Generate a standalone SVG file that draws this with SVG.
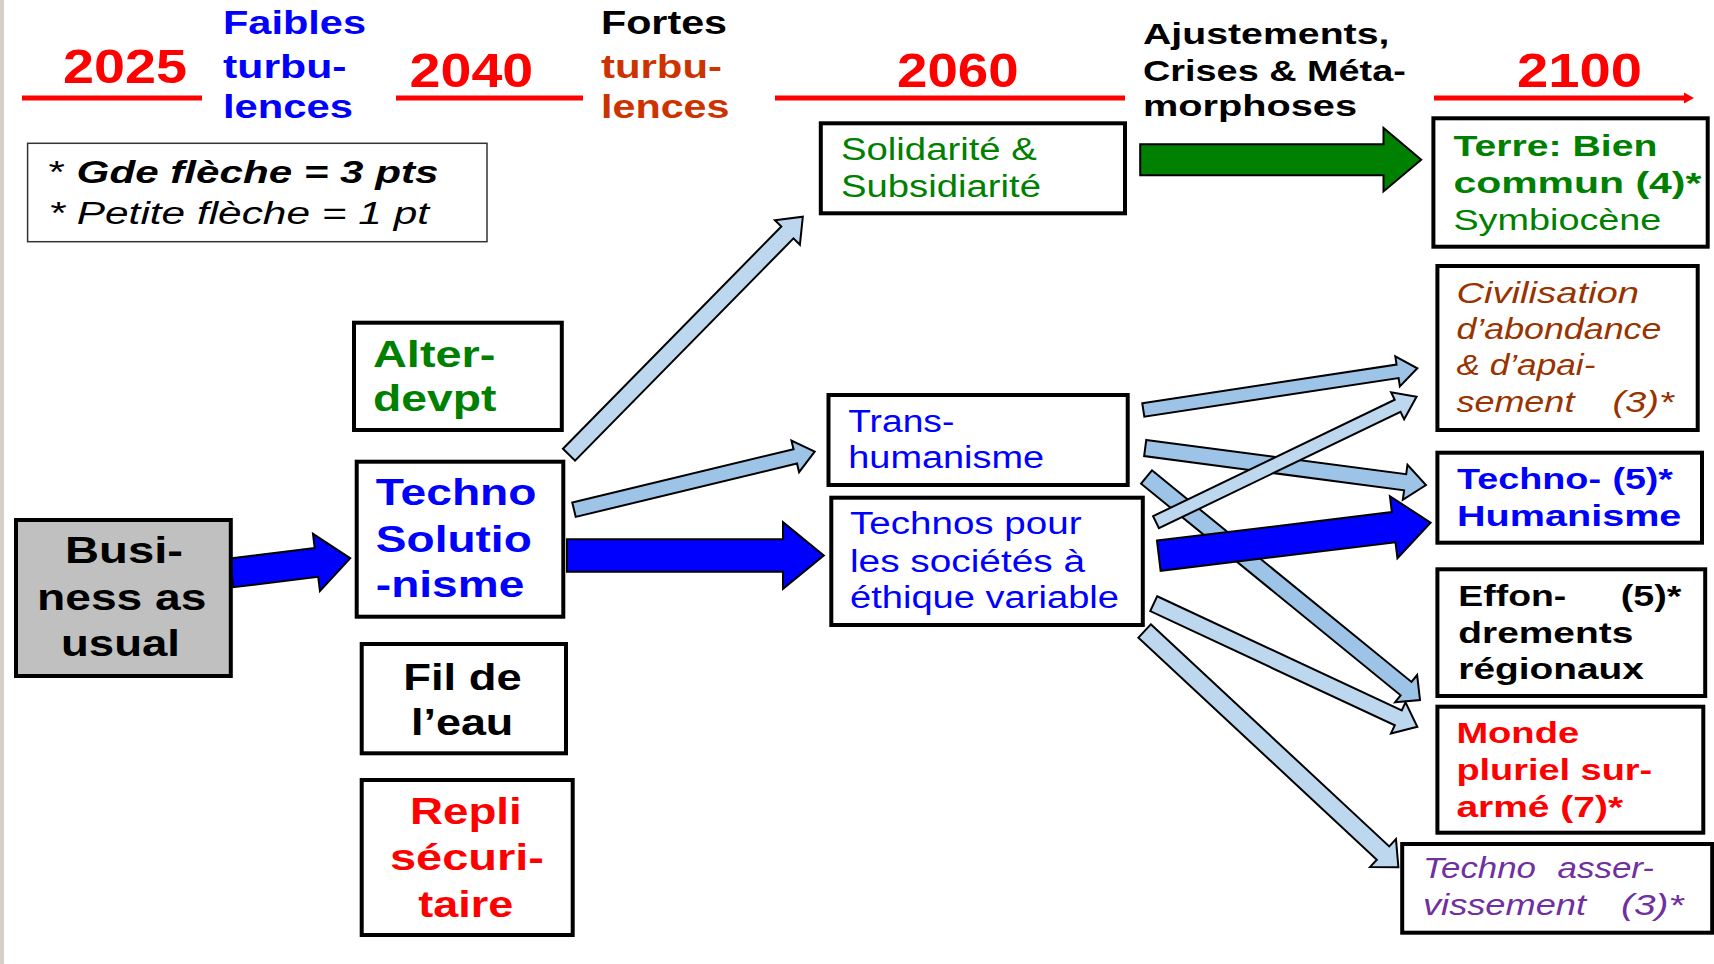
<svg xmlns="http://www.w3.org/2000/svg" width="1714" height="964" viewBox="0 0 1714 964">
<style>
text { font-family: "Liberation Sans", Arial, sans-serif; }
.b { font-weight: bold; }
.i { font-style: italic; }
.box { fill: #ffffff; stroke: #000000; stroke-width: 4; }
.tl { stroke: #ff0000; stroke-width: 5; }
.yr { font-size: 49px; font-weight: bold; fill: #ff0000; }
.ph { font-size: 34px; font-weight: bold; }
.aj { font-size: 30px; font-weight: bold; fill: #000000; }
.t1 { font-size: 36px; font-weight: bold; }
.t2 { font-size: 31px; }
.t3 { font-size: 30px; }
.arr { stroke: #000000; stroke-width: 2; stroke-linejoin: miter; }
.big { fill: #0000ff; }
.grn { fill: #008000; }
.lt { fill: #bdd7ee; }
.md { fill: #9dc3e6; }
</style>
<rect x="0" y="0" width="1714" height="964" fill="#ffffff"/>
<rect x="0" y="0" width="4" height="964" fill="#d4d0c8"/>

<g id="timeline">
  <line class="tl" x1="22" y1="98" x2="202" y2="98"/>
  <line class="tl" x1="396" y1="98" x2="583" y2="98"/>
  <line class="tl" x1="775" y1="98" x2="1125" y2="98"/>
  <line class="tl" x1="1434" y1="98" x2="1686" y2="98"/>
  <polygon points="1684,92.5 1694,98 1684,103.5" fill="#ff0000"/>
  <text class="yr" x="63" y="83" textLength="124" lengthAdjust="spacingAndGlyphs">2025</text>
  <text class="yr" x="409.6" y="86.5" textLength="123.6" lengthAdjust="spacingAndGlyphs">2040</text>
  <text class="yr" x="897" y="86.5" textLength="121.6" lengthAdjust="spacingAndGlyphs">2060</text>
  <text class="yr" x="1517" y="86.5" textLength="125" lengthAdjust="spacingAndGlyphs">2100</text>
  <g fill="#0000ff">
    <text class="ph" x="223" y="33.5" textLength="143" lengthAdjust="spacingAndGlyphs">Faibles</text>
    <text class="ph" x="223" y="77.5" textLength="123.6" lengthAdjust="spacingAndGlyphs">turbu-</text>
    <text class="ph" x="223" y="117.5" textLength="130" lengthAdjust="spacingAndGlyphs">lences</text>
  </g>
  <text class="ph" x="601" y="33.5" fill="#000000" textLength="126" lengthAdjust="spacingAndGlyphs">Fortes</text>
  <text class="ph" x="601" y="77.5" fill="#cc3300" textLength="121" lengthAdjust="spacingAndGlyphs">turbu-</text>
  <text class="ph" x="601" y="117.5" fill="#cc3300" textLength="128.5" lengthAdjust="spacingAndGlyphs">lences</text>
  <text class="aj" x="1143" y="44" textLength="246.4" lengthAdjust="spacingAndGlyphs">Ajustements,</text>
  <text class="aj" x="1143" y="81" textLength="262.8" lengthAdjust="spacingAndGlyphs">Crises &amp; Méta-</text>
  <text class="aj" x="1143" y="116" textLength="214" lengthAdjust="spacingAndGlyphs">morphoses</text>
</g>

<g id="legend">
  <rect x="27.6" y="143.3" width="459.4" height="98.4" fill="none" stroke="#333333" stroke-width="1.5"/>
  <text x="48.5" y="183" font-size="31" fill="#000000" textLength="390" lengthAdjust="spacingAndGlyphs">* <tspan class="b i">Gde flèche = 3 pts</tspan></text>
  <text class="i" x="48.5" y="224" font-size="31" fill="#000000" textLength="380.5" lengthAdjust="spacingAndGlyphs">* Petite flèche = 1 pt</text>
</g>

<g id="connectors">
  <path class="arr lt" transform="translate(569,454.7) rotate(-45.5)" d="M0,-8.5 H311.6 V-17.5 L333.6,0 L311.6,17.5 V8.5 H0 Z"/>
  <path class="arr md" transform="translate(574,509.7) rotate(-13.55)" d="M0,-7.4 H227.6 V-16.3 L247.6,0 L227.6,16.3 V7.4 H0 Z"/>
  <path class="arr big" transform="translate(231.5,572.8) rotate(-6.96)" d="M0,-14.5 H85.6 V-28.8 L119.6,0 L85.6,28.8 V14.5 H0 Z"/>
  <path class="arr big" transform="translate(567,555.5)" d="M0,-16.2 H216 V-33.3 L256.8,0 L216,33.3 V16.2 H0 Z"/>
  <path class="arr grn" transform="translate(1140.2,159.7)" d="M0,-15.5 H243.3 V-31.7 L281,0 L243.3,31.7 V15.5 H0 Z"/>
  <path class="arr md" transform="translate(1146.5,477) rotate(39.19)" d="M0,-8.6 H334.9 V-17.5 L352.9,0 L334.9,17.5 V8.6 H0 Z"/>
  <path class="arr md" transform="translate(1143.3,410) rotate(-8.65)" d="M0,-6.8 H257.2 V-15.2 L277.2,0 L257.2,15.2 V6.8 H0 Z"/>
  <path class="arr md" transform="translate(1145.2,448) rotate(7.51)" d="M0,-8.1 H262.2 V-17.7 L283.2,0 L262.2,17.7 V8.1 H0 Z"/>
  <path class="arr lt" transform="translate(1153.7,603.7) rotate(25.02)" d="M0,-8.2 H269.9 V-17.2 L290.9,0 L269.9,17.2 V8.2 H0 Z"/>
  <path class="arr lt" transform="translate(1144.6,631) rotate(42.96)" d="M0,-9.1 H325.8 V-19 L346.8,0 L325.8,19 V9.1 H0 Z"/>
  <path class="arr lt" transform="translate(1156,522.2) rotate(-25.72)" d="M0,-6.7 H268.2 V-15 L289.2,0 L268.2,15 V6.7 H0 Z"/>
  <path class="arr big" transform="translate(1158.8,555.7) rotate(-6.92)" d="M0,-15.2 H236.6 V-31.2 L273.8,0 L236.6,31.2 V15.2 H0 Z"/>
</g>

<g id="bau">
  <rect class="box" x="16" y="520" width="214.8" height="156" style="fill:#c0c0c0"/>
  <g class="t1" fill="#000000">
    <text x="65" y="563" textLength="118" lengthAdjust="spacingAndGlyphs">Busi-</text>
    <text x="37" y="610" textLength="169.5" lengthAdjust="spacingAndGlyphs">ness as</text>
    <text x="61" y="656" textLength="119" lengthAdjust="spacingAndGlyphs">usual</text>
  </g>
</g>

<g id="alter">
  <rect class="box" x="354" y="322.7" width="207.8" height="107.3"/>
  <g class="t1" fill="#008000">
    <text x="373" y="367" textLength="122.5" lengthAdjust="spacingAndGlyphs">Alter-</text>
    <text x="373" y="411" textLength="123.4" lengthAdjust="spacingAndGlyphs">devpt</text>
  </g>
</g>

<g id="techno-solutionnisme">
  <rect class="box" x="356.7" y="461.7" width="206.6" height="155"/>
  <g class="t1" fill="#0000ff">
    <text x="375.8" y="505" textLength="160.7" lengthAdjust="spacingAndGlyphs">Techno</text>
    <text x="375.8" y="551.7" textLength="156" lengthAdjust="spacingAndGlyphs">Solutio</text>
    <text x="375.8" y="596.7" textLength="148.5" lengthAdjust="spacingAndGlyphs">-nisme</text>
  </g>
</g>

<g id="fil-de-leau">
  <rect class="box" x="361.7" y="644" width="204.3" height="109.3"/>
  <g class="t1" fill="#000000">
    <text x="403.3" y="690" textLength="118.4" lengthAdjust="spacingAndGlyphs">Fil de</text>
    <text x="411" y="735" textLength="102.3" lengthAdjust="spacingAndGlyphs">l’eau</text>
  </g>
</g>

<g id="repli">
  <rect class="box" x="361.7" y="780" width="211" height="155"/>
  <g class="t1" fill="#ff0000">
    <text x="410" y="824" textLength="111.7" lengthAdjust="spacingAndGlyphs">Repli</text>
    <text x="390" y="870" textLength="154" lengthAdjust="spacingAndGlyphs">sécuri-</text>
    <text x="418.3" y="916.7" textLength="95" lengthAdjust="spacingAndGlyphs">taire</text>
  </g>
</g>

<g id="solidarite">
  <rect class="box" x="820.8" y="123.3" width="304.2" height="90"/>
  <g class="t2" fill="#008000">
    <text x="841" y="160" textLength="195.8" lengthAdjust="spacingAndGlyphs">Solidarité &amp;</text>
    <text x="841" y="196.7" textLength="200" lengthAdjust="spacingAndGlyphs">Subsidiarité</text>
  </g>
</g>

<g id="transhumanisme">
  <rect class="box" x="828.5" y="395" width="299.2" height="90"/>
  <g class="t2" fill="#0000ff">
    <text x="848.3" y="431.7" textLength="106" lengthAdjust="spacingAndGlyphs">Trans-</text>
    <text x="848.3" y="468.3" textLength="195.7" lengthAdjust="spacingAndGlyphs">humanisme</text>
  </g>
</g>

<g id="technos-ethique">
  <rect class="box" x="831.3" y="497.7" width="311.5" height="127.3"/>
  <g class="t2" fill="#0000ff">
    <text x="850" y="534.3" textLength="231.5" lengthAdjust="spacingAndGlyphs">Technos pour</text>
    <text x="850" y="571.7" textLength="235" lengthAdjust="spacingAndGlyphs">les sociétés à</text>
    <text x="850" y="608.3" textLength="269" lengthAdjust="spacingAndGlyphs">éthique variable</text>
  </g>
</g>

<g id="terre">
  <rect class="box" x="1433.4" y="118.3" width="274.3" height="128.4"/>
  <g class="t3" fill="#008000">
    <text class="b" x="1453.4" y="156" textLength="204" lengthAdjust="spacingAndGlyphs">Terre: Bien</text>
    <text class="b" x="1453.4" y="193.3" textLength="248" lengthAdjust="spacingAndGlyphs">commun (4)*</text>
    <text x="1453.4" y="230" textLength="208" lengthAdjust="spacingAndGlyphs">Symbiocène</text>
  </g>
</g>

<g id="civilisation">
  <rect class="box" x="1437.4" y="266" width="260.3" height="164"/>
  <g class="t3 i" fill="#993300">
    <text x="1456.4" y="302.7" textLength="182.6" lengthAdjust="spacingAndGlyphs">Civilisation</text>
    <text x="1456.4" y="339.3" textLength="205" lengthAdjust="spacingAndGlyphs">d’abondance</text>
    <text x="1456.4" y="375" textLength="139" lengthAdjust="spacingAndGlyphs">&amp; d’apai-</text>
    <text x="1456.4" y="411.7" textLength="118" lengthAdjust="spacingAndGlyphs">sement</text>
    <text x="1612.4" y="411.7" textLength="61.4" lengthAdjust="spacingAndGlyphs">(3)*</text>
  </g>
</g>

<g id="techno-humanisme">
  <rect class="box" x="1437.4" y="452.7" width="264.6" height="90"/>
  <g class="t3 b" fill="#0000ff">
    <text x="1457" y="489.3" textLength="144" lengthAdjust="spacingAndGlyphs">Techno-</text>
    <text x="1612.4" y="489.3" textLength="60.6" lengthAdjust="spacingAndGlyphs">(5)*</text>
    <text x="1457" y="526" textLength="224.4" lengthAdjust="spacingAndGlyphs">Humanisme</text>
  </g>
</g>

<g id="effondrements">
  <rect class="box" x="1437.4" y="569.3" width="267.8" height="126.7"/>
  <g class="t3 b" fill="#000000">
    <text x="1458.3" y="606" textLength="108" lengthAdjust="spacingAndGlyphs">Effon-</text>
    <text x="1620.8" y="606" textLength="60.6" lengthAdjust="spacingAndGlyphs">(5)*</text>
    <text x="1458.3" y="642.7" textLength="175" lengthAdjust="spacingAndGlyphs">drements</text>
    <text x="1458.3" y="679.3" textLength="185.6" lengthAdjust="spacingAndGlyphs">régionaux</text>
  </g>
</g>

<g id="monde-pluriel">
  <rect class="box" x="1437.4" y="706.7" width="265.9" height="126"/>
  <g class="t3 b" fill="#ff0000">
    <text x="1456.4" y="742.7" textLength="122.7" lengthAdjust="spacingAndGlyphs">Monde</text>
    <text x="1456.4" y="780" textLength="195.8" lengthAdjust="spacingAndGlyphs">pluriel sur-</text>
    <text x="1456.4" y="817.3" textLength="166.7" lengthAdjust="spacingAndGlyphs">armé (7)*</text>
  </g>
</g>

<g id="techno-asservissement">
  <rect class="box" x="1402.2" y="844" width="310" height="88.7"/>
  <g class="t3 i" fill="#7030a0">
    <text x="1423" y="877.5" textLength="113" lengthAdjust="spacingAndGlyphs">Techno</text>
    <text x="1557.5" y="877.5" textLength="96.5" lengthAdjust="spacingAndGlyphs">asser-</text>
    <text x="1423" y="914.5" textLength="163" lengthAdjust="spacingAndGlyphs">vissement</text>
    <text x="1621" y="914.5" textLength="62.6" lengthAdjust="spacingAndGlyphs">(3)*</text>
  </g>
</g>
</svg>
